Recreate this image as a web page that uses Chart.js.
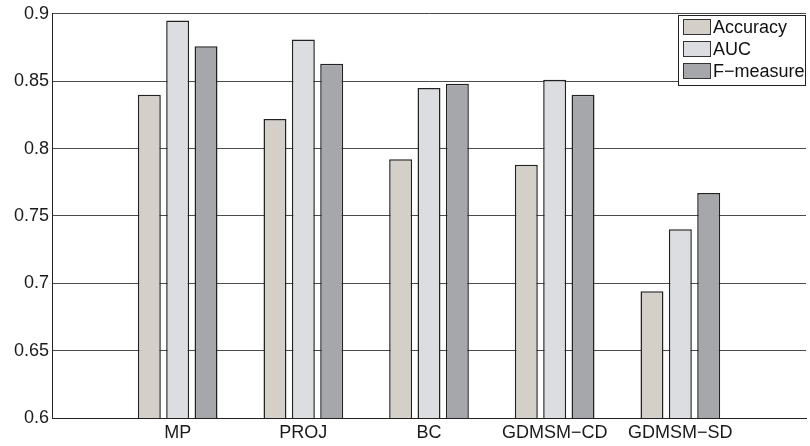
<!DOCTYPE html>
<html>
<head>
<meta charset="utf-8">
<script src="https://cdn.jsdelivr.net/npm/chart.js@4/dist/chart.umd.min.js"></script>
<style>
  html, body { margin: 0; padding: 0; background: #ffffff; }
  #wrap { width: 810px; height: 446px; }
</style>
</head>
<body>
<div id="wrap"><canvas id="c" width="810" height="446"></canvas></div>
<script>
// Methods compared, with one empty slot on each side of the axis
const categories = ['MP', 'PROJ', 'BC', 'GDMSM\u2212CD', 'GDMSM\u2212SD'];
const seriesNames = ['Accuracy', 'AUC', 'F\u2212measure'];
const accuracy = [0.840, 0.822, 0.792, 0.788, 0.694];
const auc      = [0.895, 0.881, 0.845, 0.851, 0.740];
const fMeasure = [0.876, 0.863, 0.848, 0.840, 0.767];
const yTicks   = [0.6, 0.65, 0.7, 0.75, 0.8, 0.85, 0.9];

const colors = ['#d4d0c9', '#dcdde0', '#a6a7ab'];
const FONT = '"Liberation Sans", Arial, Helvetica, sans-serif';

const labels = [''].concat(categories, ['']);
const pad = arr => [null].concat(arr, [null]);

const datasets = [accuracy, auc, fMeasure].map((vals, i) => ({
  label: seriesNames[i],
  data: pad(vals),
  backgroundColor: colors[i],
  borderColor: '#222222',
  borderWidth: { top: 1.5, left: 1.5, right: 1.5, bottom: 0 },
  borderSkipped: false,
  categoryPercentage: 0.677,
  barPercentage: 0.81
}));

// Boxed legend drawn inside the top-right corner of the plot
const boxLegend = {
  id: 'boxLegend',
  afterDatasetsDraw(chart) {
    const ctx = chart.ctx;
    const area = chart.chartArea;
    const x0 = 678, y0 = 15, w = area.right - x0 - 1, h = 70;
    ctx.save();
    ctx.fillStyle = '#ffffff';
    ctx.fillRect(x0, y0, w, h);
    ctx.strokeStyle = '#222222';
    ctx.lineWidth = 1;
    ctx.strokeRect(x0 + 0.5, y0 + 0.5, w, h);
    ctx.font = '18px ' + FONT;
    ctx.textBaseline = 'middle';
    ctx.textAlign = 'left';
    chart.data.datasets.forEach((ds, i) => {
      const cy = y0 + 12 + i * 22;
      ctx.fillStyle = ds.backgroundColor;
      ctx.fillRect(683, cy - 7.5, 27, 15);
      ctx.strokeStyle = '#333333';
      ctx.strokeRect(683.5, cy - 7.5, 27, 15);
      ctx.fillStyle = '#111111';
      ctx.fillText(ds.label, 713, cy + 1);
    });
    ctx.restore();
  }
};

new Chart(document.getElementById('c'), {
  type: 'bar',
  data: { labels: labels, datasets: datasets },
  options: {
    responsive: false,
    animation: false,
    layout: { padding: { top: 12, right: 0, left: 0, bottom: 0 } },
    plugins: { legend: { display: false }, tooltip: { enabled: false } },
    scales: {
      x: {
        type: 'category',
        offset: false,
        grid: { display: false, drawTicks: false },
        border: { display: true, color: '#222222', width: 1 },
        ticks: {
          autoSkip: false,
          maxRotation: 0,
          padding: 4,
          color: '#1a1a1a',
          font: { family: FONT, size: 18 }
        },
        afterFit(scale) { scale.height = 28; }
      },
      y: {
        min: 0.6,
        max: 0.9,
        afterBuildTicks(scale) { scale.ticks = yTicks.map(v => ({ value: v })); },
        grid: { color: '#4a4a4a', lineWidth: 1, drawTicks: false },
        border: { display: true, color: '#222222', width: 1 },
        ticks: {
          padding: 3,
          color: '#1a1a1a',
          font: { family: FONT, size: 18 },
          callback: v => String(Math.round(v * 100) / 100)
        },
        afterFit(scale) { scale.width = 52; }
      }
    }
  },
  plugins: [boxLegend]
});
</script>
</body>
</html>
